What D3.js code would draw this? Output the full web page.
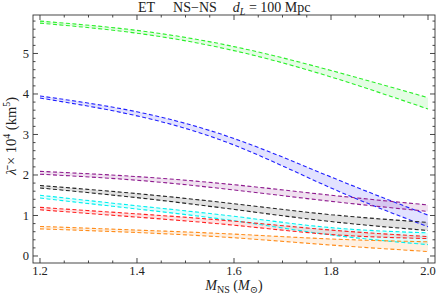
<!DOCTYPE html>
<html>
<head>
<meta charset="utf-8">
<script src="https://cdn.jsdelivr.net/npm/d3@7"></script>
<style>
  body { margin: 0; background: #fff; }
  text { font-family: "Liberation Serif", "DejaVu Serif", serif; fill: #222; }
</style>
</head>
<body>
<div id="chart"></div>
<script>
// neutron star mass samples (M_sun)
const mass = [1.2, 1.4, 1.6, 1.8, 2.0];

// upper / lower edges of each band, lambda-bar x 10^4 (km^5)
const greenHi = [5.80, 5.57, 5.17, 4.58, 3.91];
const greenLo = [5.75, 5.50, 5.07, 4.42, 3.63];
const blueHi = [3.95, 3.56, 2.90, 1.95, 1.01];
const blueLo = [3.90, 3.46, 2.74, 1.68, 0.72];
const purpleHi = [2.09, 1.96, 1.76, 1.50, 1.26];
const purpleLo = [2.02, 1.87, 1.63, 1.35, 1.10];
const blackHi = [1.74, 1.54, 1.29, 1.02, 0.83];
const blackLo = [1.68, 1.44, 1.15, 0.85, 0.63];
const cyanHi = [1.50, 1.24, 0.98, 0.70, 0.57];
const cyanLo = [1.43, 1.16, 0.87, 0.52, 0.28];
const redHi = [1.20, 1.04, 0.86, 0.64, 0.48];
const redLo = [1.14, 0.96, 0.76, 0.53, 0.43];
const orangeHi = [0.73, 0.64, 0.54, 0.42, 0.35];
const orangeLo = [0.67, 0.58, 0.45, 0.27, 0.11];

const xTicks = [1.2, 1.4, 1.6, 1.8, 2.0];
const yTicks = [0, 1, 2, 3, 4, 5];

const bands = [
  {color: "#2bef2b", hi: greenHi, lo: greenLo},
  {color: "#2020ff", hi: blueHi, lo: blueLo},
  {color: "#8e1a8e", hi: purpleHi, lo: purpleLo},
  {color: "#222222", hi: blackHi, lo: blackLo},
  {color: "#00f0f0", hi: cyanHi, lo: cyanLo},
  {color: "#ff2020", hi: redHi, lo: redLo},
  {color: "#ff8c1a", hi: orangeHi, lo: orangeLo}
];

const W = 436, H = 302;
const frame = {left: 33, right: 435, top: 15, bottom: 263};

const svg = d3.select("#chart").append("svg")
  .attr("width", W).attr("height", H);

const x = d3.scaleLinear().domain([1.1856, 2.0144]).range([frame.left, frame.right]);
const y = d3.scaleLinear().domain([-0.173, 5.95]).range([frame.bottom, frame.top]);

svg.append("clipPath").attr("id", "clip")
  .append("rect")
  .attr("x", frame.left).attr("y", frame.top)
  .attr("width", frame.right - frame.left).attr("height", frame.bottom - frame.top);

const plot = svg.append("g").attr("clip-path", "url(#clip)");

const area = d3.area()
  .x((d, i) => x(mass[i]))
  .y0(d => y(d[1]))
  .y1(d => y(d[0]))
  .curve(d3.curveNatural);

const line = d3.line()
  .x((d, i) => x(mass[i]))
  .y(d => y(d))
  .curve(d3.curveNatural);

// shaded regions first
bands.forEach(b => {
  plot.append("path")
    .datum(b.hi.map((v, i) => [v, b.lo[i]]))
    .attr("fill", b.color)
    .attr("fill-opacity", 0.13)
    .attr("d", area);
});

// dashed edges
bands.forEach(b => {
  [b.hi, b.lo].forEach(arr => {
    plot.append("path")
      .datum(arr)
      .attr("fill", "none")
      .attr("stroke", b.color)
      .attr("stroke-width", 1.1)
      .attr("stroke-dasharray", "4,2.5")
      .attr("d", line);
  });
});

// frame with ticks
const axisG = svg.append("g").attr("stroke", "#333").attr("stroke-width", 0.9);
axisG.append("rect")
  .attr("x", frame.left).attr("y", frame.top)
  .attr("width", frame.right - frame.left).attr("height", frame.bottom - frame.top)
  .attr("fill", "none");

const xMinor = d3.range(1.2, 2.0001, 0.05);
const yMinor = d3.range(0, 5.9, 0.2);

xMinor.forEach(v => {
  const major = xTicks.some(t => Math.abs(t - v) < 1e-6);
  const len = major ? 5 : 2.5;
  axisG.append("line").attr("x1", x(v)).attr("x2", x(v))
    .attr("y1", frame.bottom).attr("y2", frame.bottom - len);
  axisG.append("line").attr("x1", x(v)).attr("x2", x(v))
    .attr("y1", frame.top).attr("y2", frame.top + len);
});
yMinor.forEach(v => {
  const major = yTicks.some(t => Math.abs(t - v) < 1e-6);
  const len = major ? 5 : 2.5;
  axisG.append("line").attr("y1", y(v)).attr("y2", y(v))
    .attr("x1", frame.left).attr("x2", frame.left + len);
  axisG.append("line").attr("y1", y(v)).attr("y2", y(v))
    .attr("x1", frame.right).attr("x2", frame.right - len);
});

svg.append("g").selectAll("text").data(xTicks).join("text")
  .attr("x", d => x(d)).attr("y", 275)
  .attr("text-anchor", "middle").attr("font-size", 12.5)
  .text(d => d.toFixed(1));

svg.append("g").selectAll("text").data(yTicks).join("text")
  .attr("x", 29).attr("y", d => y(d) + 4.5)
  .attr("text-anchor", "end").attr("font-size", 12.5)
  .text(d => d);

// title
const title = svg.append("text").attr("x", 138).attr("y", 12).attr("font-size", 14);
title.append("tspan").text("ET");
title.append("tspan").attr("dx", 18).text("NS\u2212NS");
title.append("tspan").attr("dx", 16).attr("font-style", "italic").text("d");
title.append("tspan").attr("font-style", "italic").attr("font-size", 10).attr("dy", 3).text("L");
title.append("tspan").attr("dy", -3).text(" = 100 Mpc");

// x label
const xl = svg.append("text").attr("x", 234).attr("y", 290)
  .attr("text-anchor", "middle").attr("font-size", 14);
xl.append("tspan").attr("font-style", "italic").text("M");
xl.append("tspan").attr("font-size", 10).attr("dy", 3).text("NS");
xl.append("tspan").attr("dy", -3).text(" (");
xl.append("tspan").attr("font-style", "italic").text("M");
xl.append("tspan").attr("font-size", 10).attr("dy", 3).text("\u2299");
xl.append("tspan").attr("dy", -3).text(")");

// y label
const yl = svg.append("text")
  .attr("transform", "translate(16,136) rotate(-90)")
  .attr("text-anchor", "middle").attr("font-size", 14.5);
yl.append("tspan").attr("font-style", "italic").text("\u03bb\u0304");
yl.append("tspan").text(" \u00d7 10");
yl.append("tspan").attr("font-size", 10).attr("dy", -6).text("4");
yl.append("tspan").attr("dy", 6).text(" (km");
yl.append("tspan").attr("font-size", 10).attr("dy", -6).text("5");
yl.append("tspan").attr("dy", 6).text(")");
</script>
</body>
</html>
